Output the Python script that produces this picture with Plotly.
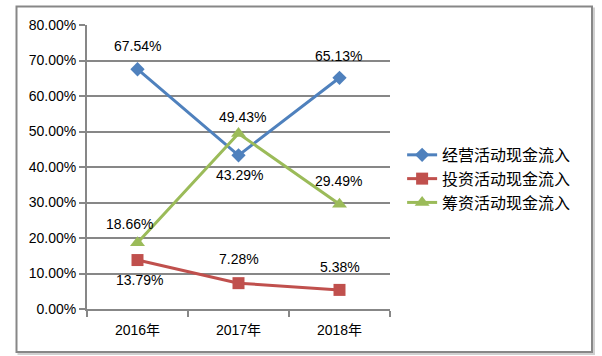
import plotly.graph_objects as go

years = ["2016年", "2017年", "2018年"]
series_names = ["经营活动现金流入", "投资活动现金流入", "筹资活动现金流入"]
operating = [67.54, 43.29, 65.13]
investing = [13.79, 7.28, 5.38]
financing = [18.66, 49.43, 29.49]
y_ticks = [0, 10, 20, 30, 40, 50, 60, 70, 80]
y_tick_labels = ["0.00%", "10.00%", "20.00%", "30.00%", "40.00%", "50.00%", "60.00%", "70.00%", "80.00%"]

colors = ["#4F81BD", "#C0504D", "#9BBB59"]
symbols = ["diamond", "square", "triangle-up"]
msizes = [11, 12, 13]
# label offsets (px): xshift, yshift for each point
label_offsets = [
    [(0, 23), (1, -20), (-1, 22)],
    [(1.5, -20), (0, 24), (0, 23)],
    [(-8.5, 19), (3.5, 17), (-1, 23)],
]

W, H = 602, 356
L, R, T, B = 87, 212, 25, 47
font_lat = "Liberation Sans, Noto Sans CJK SC"
grid = "#878787"

fig = go.Figure()
all_series = [operating, investing, financing]
for i, vals in enumerate(all_series):
    fig.add_trace(go.Scatter(
        x=years, y=vals, name=series_names[i], mode="lines+markers",
        line=dict(color=colors[i], width=3),
        marker=dict(symbol=symbols[i], size=msizes[i], color=colors[i]),
    ))
    for j, v in enumerate(vals):
        xs, ys = label_offsets[i][j]
        fig.add_annotation(x=years[j], y=v, xref="x", yref="y", text=f"{v:.2f}%",
                           showarrow=False, xshift=xs, yshift=ys,
                           font=dict(family=font_lat, size=14, color="#000000"))

pw = W - L - R
ph = H - T - B
# soft shadow of the chart frame
fig.add_shape(type="rect", xref="paper", yref="paper",
              x0=(18.5 - L) / pw, x1=(594 - L) / pw,
              y0=(H - B - 354) / ph, y1=(H - B - 8.5) / ph,
              line=dict(color="#d0d0d0", width=2), layer="below")
fig.add_shape(type="rect", xref="paper", yref="paper",
              x0=(16.5 - L) / pw, x1=(592 - L) / pw,
              y0=(H - B - 352) / ph, y1=(H - B - 6.5) / ph,
              line=dict(color="#878787", width=2), fillcolor="white", layer="below")

fig.update_layout(
    width=W, height=H,
    margin=dict(l=L, r=R, t=T, b=B),
    paper_bgcolor="white", plot_bgcolor="rgba(0,0,0,0)",
    font=dict(family=font_lat, size=14, color="#000000"),
    showlegend=True,
    legend=dict(x=1.04, y=0.458, xanchor="left", yanchor="middle",
                font=dict(family="Noto Sans CJK SC", size=16, color="#000000"),
                bgcolor="rgba(0,0,0,0)", tracegroupgap=0, itemwidth=30),
    xaxis=dict(type="category", range=[-0.5, 2.5], showline=True, linecolor=grid, linewidth=2,
               ticks="outside", tickson="boundaries", ticklen=6, tickcolor=grid, tickwidth=2,
               ticklabelstandoff=7,
               showgrid=False, tickfont=dict(size=14), fixedrange=True),
    yaxis=dict(range=[0, 80], tickvals=y_ticks, ticktext=y_tick_labels,
               showline=True, linecolor=grid, linewidth=2,
               ticks="outside", ticklen=6, tickcolor=grid, tickwidth=2,
               showgrid=True, gridcolor=grid, gridwidth=2, zeroline=False,
               tickfont=dict(size=14), fixedrange=True),
)

fig.write_html("out.html", post_script="document.body.style.margin='0';",
               config={"displayModeBar": False})
